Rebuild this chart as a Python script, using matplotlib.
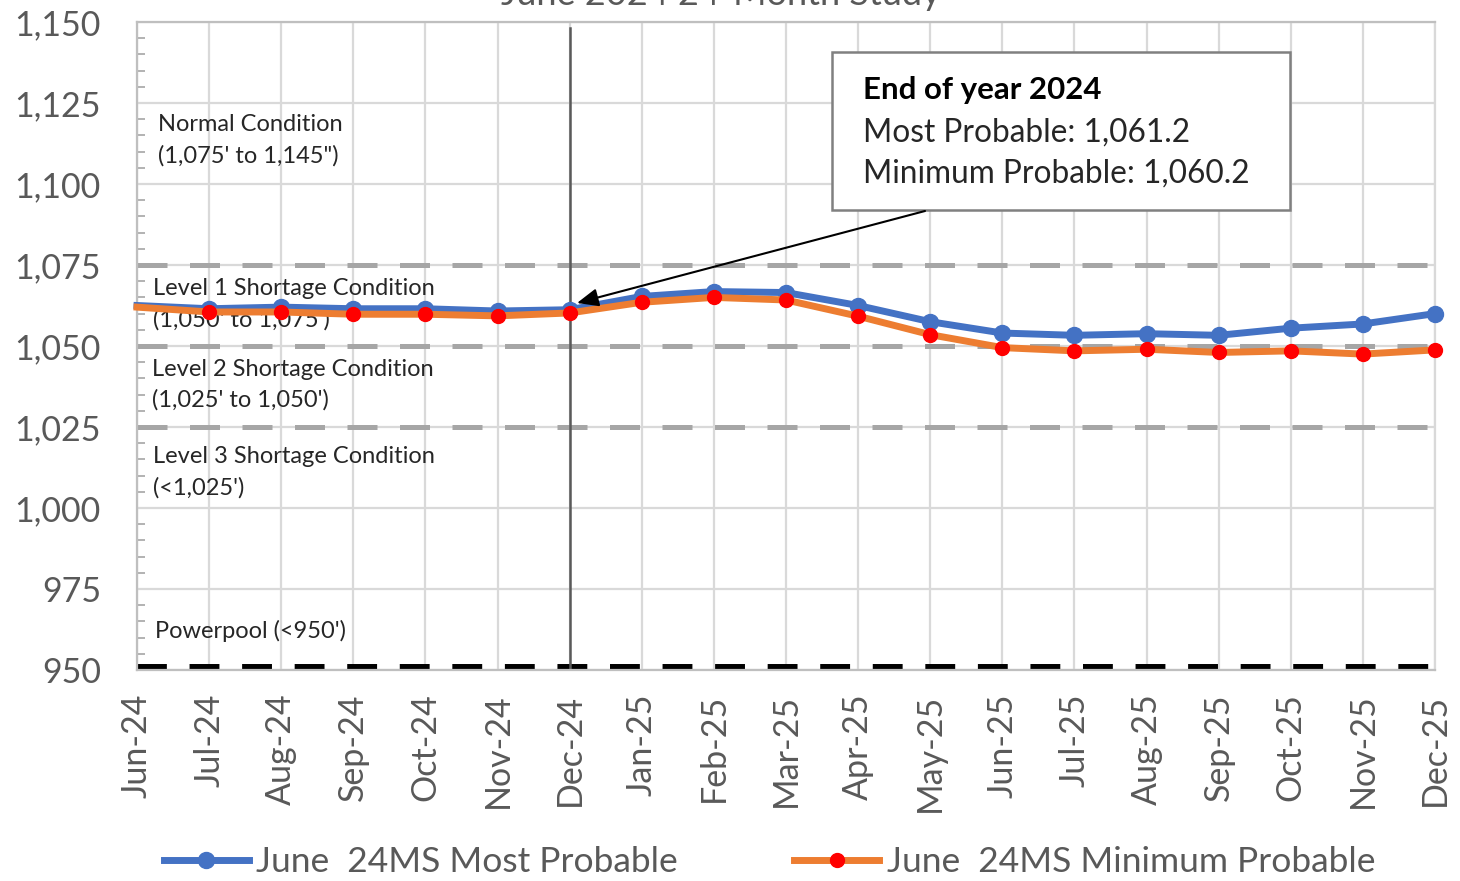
import matplotlib
matplotlib.use("Agg")
import matplotlib.pyplot as plt
from matplotlib.ticker import MultipleLocator, FuncFormatter
from matplotlib.patches import Rectangle
from matplotlib.lines import Line2D

months = ["Jun-24", "Jul-24", "Aug-24", "Sep-24", "Oct-24", "Nov-24", "Dec-24",
          "Jan-25", "Feb-25", "Mar-25", "Apr-25", "May-25", "Jun-25", "Jul-25",
          "Aug-25", "Sep-25", "Oct-25", "Nov-25", "Dec-25"]
most_probable = [1062.5, 1061.5, 1062.0, 1061.5, 1061.5, 1060.8, 1061.2, 1065.3, 1066.8,
                 1066.5, 1062.5, 1057.5, 1054.0, 1053.3, 1053.8, 1053.3, 1055.5, 1056.8, 1060.0]
min_probable = [1062.0, 1060.5, 1060.5, 1059.8, 1059.8, 1059.3, 1060.2, 1063.5, 1065.0,
                1064.2, 1059.2, 1053.5, 1049.5, 1048.5, 1049.0, 1048.0, 1048.5, 1047.5, 1048.8]
series_names = ["June  24MS Most Probable", "June  24MS Minimum Probable"]
shortage_levels = [1075, 1050, 1025]
powerpool = 950
zone_labels = [("Normal Condition", "(1,075' to 1,145\")"),
               ("Level 1 Shortage Condition", "(1,050' to 1,075')"),
               ("Level 2 Shortage Condition", "(1,025' to 1,050')"),
               ("Level 3 Shortage Condition", "(<1,025')"),
               ("Powerpool (<950')",)]
eoy_title = "End of year 2024"
eoy_lines = ["Most Probable: 1,061.2", "Minimum Probable: 1,060.2"]
title = "June 2024 24-Month Study"

plt.rcParams['font.family'] = ['Lato', 'DejaVu Sans']

W, H = 1460, 881
fig = plt.figure(figsize=(W / 100, H / 100), dpi=100)
L, R, T, B = 137, 1435, 22, 670
ax = fig.add_axes([L / W, 1 - B / H, (R - L) / W, (B - T) / H])

x = list(range(len(months)))
ax.set_xlim(0, len(months) - 1)
ax.set_ylim(950, 1150)

def px2data(px, py):
    return ((px - L) / (R - L) * (len(months) - 1), 1150 - (py - T) / (B - T) * 200)

# grid
ax.set_axisbelow(True)
ax.yaxis.set_major_locator(MultipleLocator(25))
ax.yaxis.set_minor_locator(MultipleLocator(5))
ax.set_xticks(x)
ax.set_xticklabels(months, rotation=90)
ax.grid(True, which='major', color='#d9d9d9', lw=1.6)
ax.yaxis.set_major_formatter(FuncFormatter(lambda v, p: f"{int(v):,}"))
ax.tick_params(axis='y', which='major', length=0, pad=26, labelsize=24.5, labelcolor='#595959')
ax.tick_params(axis='y', which='minor', length=6, width=1.2, direction='in', color='#a6a6a6')
ax.tick_params(axis='x', length=0, pad=17, labelsize=24.5, labelcolor='#595959')
for s in ax.spines.values():
    s.set_color('#bfbfbf')
    s.set_linewidth(1.6)
ax.spines['right'].set_color('#d9d9d9')

# threshold lines
for lvl in shortage_levels:
    ax.axhline(lvl, color='#a6a6a6', lw=3.6, dashes=(6, 4.5), zorder=2)
ax.axhline(powerpool + 1, color='black', lw=4.3, dashes=(5, 3.8), zorder=2)

# end-of-year vertical line
ax.plot([6, 6], [950, px2data(0, 28)[1]], color='#595959', lw=1.8, zorder=2)

# series
ax.plot(x, most_probable, color='#4472C4', lw=5, marker='o', ms=11.5, mfc='#4472C4',
        mec='#4472C4', markevery=list(range(1, len(x))), clip_on=False, zorder=4)
ax.plot(x, min_probable, color='#ED7D31', lw=5, marker='o', ms=10, mfc='#FF0000',
        mec='#FF0000', markevery=list(range(1, len(x))), clip_on=False, zorder=5)

# zone labels
zone_pos = [(158, 125), (153, 289), (152, 369), (153, 457), (155, 631)]
for lines, (px, py) in zip(zone_labels, zone_pos):
    for i, line in enumerate(lines):
        xd, yd = px2data(px, py + i * 31)
        ax.text(xd, yd, line, fontsize=17, color='#262626', va='center', ha='left', zorder=3)

# annotation box
bx0, by0 = px2data(832, 210)
bx1, by1 = px2data(1290, 52)
ax.add_patch(Rectangle((bx0, by0), bx1 - bx0, by1 - by0, facecolor='white',
                       edgecolor='#808080', lw=1.8, zorder=6))
tx, ty = px2data(863, 90)
ax.text(tx, ty, eoy_title, fontsize=22.5, fontweight='bold', color='black', va='center', zorder=7)
for i, line in enumerate(eoy_lines):
    tx, ty = px2data(863, 133 + i * 41)
    ax.text(tx, ty, line, fontsize=22.8, color='#262626', va='center', zorder=7)

tip = px2data(577, 303)
tail = px2data(925, 211)
ax.annotate('', xy=tip, xytext=tail,
            arrowprops=dict(arrowstyle='-|>,head_length=1.3,head_width=0.55', color='black',
                            lw=1.5, shrinkA=0, shrinkB=0), zorder=7)

# title (cut off at top, as in the reference)
fig.text(0.494, 1 - 5 / H, title, fontsize=26, color='#595959', ha='center', va='baseline')

# legend
handles = [Line2D([], [], color='#4472C4', lw=5, marker='o', ms=11.5, mfc='#4472C4', mec='#4472C4'),
           Line2D([], [], color='#ED7D31', lw=5, marker='o', ms=10, mfc='#FF0000', mec='#FF0000')]
fig.legend(handles, series_names, loc='center', bbox_to_anchor=(0.527, 1 - 862 / H), ncol=2,
           frameon=False, fontsize=25.5, labelcolor='#595959', handlelength=2.4,
           handletextpad=0.2, columnspacing=3.3)

fig.savefig('out.png', dpi=100)
